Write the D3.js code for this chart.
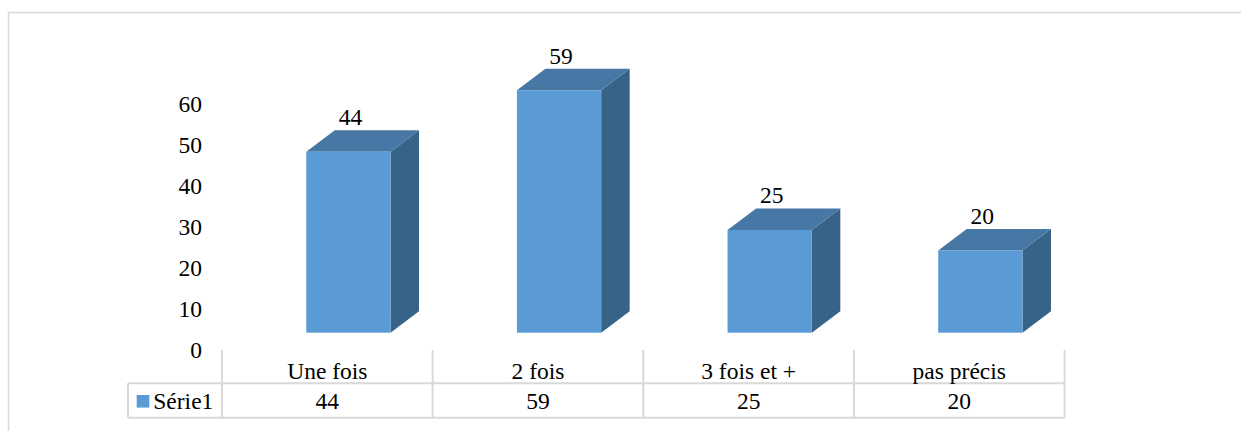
<!DOCTYPE html>
<html><head><meta charset="utf-8">
<script src="https://cdn.jsdelivr.net/npm/d3@7"></script>
<style>body{margin:0;background:#fff}svg{display:block}svg text{font-family:"Liberation Serif","Times New Roman",serif;font-size:23.5px;fill:#000}</style>
</head><body>
<script>
const categories = ["Une fois", "2 fois", "3 fois et +", "pas précis"];
const seriesName = "Série1";
const values = [44, 59, 25, 20];
const yTicks = [0, 10, 20, 30, 40, 50, 60];

const W = 1241, H = 431;
const svg = d3.select("body").append("svg").attr("width", W).attr("height", H);

// outer frame
svg.append("rect").attr("x", 8.5).attr("y", 12.5).attr("width", 1240).attr("height", 430)
  .attr("fill", "none").attr("stroke", "#d9d9d9").attr("stroke-width", 1.5);

const tableLeft = 128, colLeft = 222, colRight = 1064.6;
const rowTop = 350, rowMid = 383.3, rowBot = 417.7;

const x = d3.scaleBand().domain(categories).range([colLeft, colRight]).padding(0);
const y = d3.scaleLinear().domain([0, 60]).range([332.7, 86.1]);
const step = x.step();
const bw = step * 0.4, bo = step * 0.4;
const dx = 28.5, dy = -21.5;

// y tick labels
svg.append("g").selectAll("text").data(yTicks).join("text")
  .attr("x", 202).attr("y", d => y(d) + 25.6)
  .attr("text-anchor", "end").text(d => d);

// bars
const cFront = "#5b9bd5", cTop = "#4677a5", cSide = "#386388";
const g = svg.append("g");
categories.forEach((c, i) => {
  const v = values[i];
  const x0 = x(c) + bo, x1 = x0 + bw;
  const yt = y(v), yb = y(0);
  g.append("path").attr("d", `M${x1},${yb}L${x1+dx},${yb+dy}L${x1+dx},${yt+dy}L${x1},${yt}Z`)
    .attr("fill", cSide);
  g.append("path").attr("d", `M${x0},${yt}L${x0+dx},${yt+dy}L${x1+dx},${yt+dy}L${x1},${yt}Z`)
    .attr("fill", cTop);
  g.append("rect").attr("x", x0).attr("y", yt).attr("width", bw).attr("height", yb - yt)
    .attr("fill", cFront);
  g.append("text").attr("x", x0 + bw / 2 + 2).attr("y", yt + dy - 5)
    .attr("text-anchor", "middle").text(v);
});

// data table
const lc = "#d9d9d9", lw = 2;
const t = svg.append("g").attr("stroke", lc).attr("stroke-width", lw);
const bounds = categories.map(c => x(c)).concat([colRight]);
bounds.forEach(b => {
  t.append("line").attr("x1", b).attr("x2", b).attr("y1", rowTop).attr("y2", rowBot);
});
t.append("line").attr("x1", tableLeft).attr("x2", tableLeft).attr("y1", rowMid).attr("y2", rowBot);
t.append("line").attr("x1", tableLeft).attr("x2", colRight).attr("y1", rowMid).attr("y2", rowMid);
t.append("line").attr("x1", tableLeft).attr("x2", colRight).attr("y1", rowBot).attr("y2", rowBot);

svg.append("g").selectAll("text").data(categories).join("text")
  .attr("x", d => x(d) + step / 2).attr("y", 379)
  .attr("text-anchor", "middle").text(d => d);
svg.append("g").selectAll("text").data(values).join("text")
  .attr("x", (d, i) => x(categories[i]) + step / 2).attr("y", 408.5)
  .attr("text-anchor", "middle").text(d => d);

// legend key
svg.append("rect").attr("x", 136.7).attr("y", 395).attr("width", 12.6).attr("height", 12.6).attr("fill", cFront);
svg.append("text").attr("x", 153.3).attr("y", 408.7).text(seriesName);
</script>
</body></html>
